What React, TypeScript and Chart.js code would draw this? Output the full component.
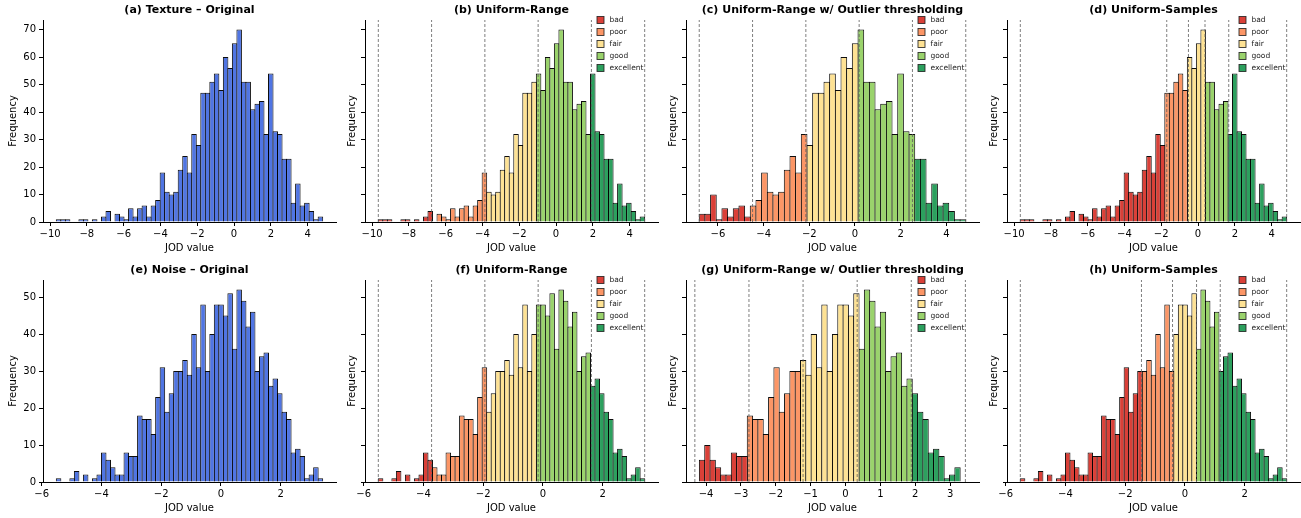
import React, { useEffect, useRef } from 'react';
import { Chart, registerables } from 'chart.js';

Chart.register(...registerables);

const FONT = '"DejaVu Sans", Arial, sans-serif';
Chart.defaults.font.family = FONT;
Chart.defaults.color = '#000';

// ---------- data ----------
const CATEGORY_LABELS = ['bad', 'poor', 'fair', 'good', 'excellent'];
const CATEGORY_COLORS = [
  'rgba(215,48,39,0.92)',
  'rgba(252,141,89,0.92)',
  'rgba(254,224,139,0.92)',
  'rgba(145,207,96,0.92)',
  'rgba(26,152,80,0.92)',
];
const ORIGINAL_COLOR = 'rgba(65,105,225,0.92)';

// Texture JOD histogram (59 bins)
const TEXTURE_COUNTS = [
  1, 1, 1, 0, 0, 1, 1, 0, 1, 0,
  2, 4, 0, 3, 2, 1, 5, 2, 5, 6,
  2, 6, 8, 18, 11, 10, 11, 19, 24, 18,
  32, 28, 47, 47, 51, 54, 48, 60, 56, 65,
  70, 51, 51, 41, 43, 44, 32, 54, 33, 32,
  23, 23, 7, 14, 6, 7, 4, 1, 2,
];
const TEXTURE_RANGE = [-9.66, 4.82];
// Texture after outlier thresholding (47 bins)
const TEXTURE_CLIPPED_COUNTS = [
  3, 3, 10, 1, 5, 2, 5, 6, 2, 6,
  8, 18, 11, 10, 11, 19, 24, 18, 32, 28,
  47, 47, 51, 54, 48, 60, 56, 65, 70, 51,
  51, 41, 43, 44, 32, 54, 33, 32, 23, 23,
  7, 14, 6, 7, 4, 1, 1,
];
const TEXTURE_CLIPPED_RANGE = [-6.82, 4.85];
const TEXTURE_UNIFORM_RANGE_EDGES = [-9.66, -6.764, -3.868, -0.972, 1.924, 4.82];
const TEXTURE_CLIPPED_EDGES = [-6.82, -4.486, -2.152, 0.182, 2.516, 4.85];
const TEXTURE_SAMPLE_EDGES = [-9.66, -1.70, -0.52, 0.38, 1.67, 4.82];

// Noise JOD histogram (59 bins)
const NOISE_COUNTS = [
  1, 0, 0, 1, 3, 0, 2, 0, 1, 2,
  8, 6, 4, 2, 2, 8, 7, 7, 18, 17,
  17, 13, 23, 31, 19, 24, 30, 30, 33, 29,
  40, 31, 48, 30, 40, 48, 48, 45, 51, 36,
  52, 49, 42, 46, 30, 34, 35, 26, 28, 24,
  19, 17, 8, 9, 7, 1, 2, 4, 1,
];
const NOISE_RANGE = [-5.508, 3.408];
// Noise after outlier thresholding (49 bins)
const NOISE_CLIPPED_COUNTS = [
  6, 10, 6, 4, 2, 2, 8, 7, 7, 18,
  17, 17, 13, 23, 31, 19, 24, 30, 30, 33,
  29, 40, 31, 48, 30, 40, 48, 48, 45, 51,
  36, 52, 49, 42, 46, 30, 34, 35, 26, 28,
  24, 19, 17, 8, 9, 7, 1, 2, 4,
];
const NOISE_CLIPPED_RANGE = [-4.19, 3.29];
const NOISE_UNIFORM_RANGE_EDGES = [-5.508, -3.725, -1.942, -0.158, 1.625, 3.408];
const NOISE_CLIPPED_EDGES = [-4.32, -2.768, -1.216, 0.336, 1.888, 3.44];
const NOISE_SAMPLE_EDGES = [-5.508, -1.453, -0.413, 0.391, 1.184, 3.408];

const ROW1_Y_TICKS = [0, 10, 20, 30, 40, 50, 60, 70];
const ROW2_Y_TICKS = [0, 10, 20, 30, 40, 50];
const ROW_Y_MAX = [73.5, 54.6];

const TEXTURE_X_TICKS = [-10, -8, -6, -4, -2, 0, 2, 4];
const TEXTURE_CLIPPED_X_TICKS = [-6, -4, -2, 0, 2, 4];
const NOISE_X_TICKS = [-6, -4, -2, 0, 2];
const NOISE_CLIPPED_X_TICKS = [-4, -3, -2, -1, 0, 1, 2, 3];

// ---------- layout ----------
const COL_LEFT = [43, 365, 686, 1007];
const ROW_TOP = [0, 260];
const AREA_W = 293;
const Y_AXIS_W = 43;
const X_AXIS_H = 36;
const RIGHT_PAD = 8;
const CANVAS_W = Y_AXIS_W + AREA_W + RIGHT_PAD;
const CANVAS_H = 258;
const EDGE_W = 1;

type PanelDef = {
  title: string;
  counts: number[];
  range: number[];
  edges: number[] | null;
  xMin: number;
  xMax: number;
  xTicks: number[];
  row: number;
  col: number;
};

const PANELS: PanelDef[] = [
  { title: '(a) Texture – Original', counts: TEXTURE_COUNTS, range: TEXTURE_RANGE, edges: null, xMin: -10.384, xMax: 5.544, xTicks: TEXTURE_X_TICKS, row: 0, col: 0 },
  { title: '(b) Uniform-Range', counts: TEXTURE_COUNTS, range: TEXTURE_RANGE, edges: TEXTURE_UNIFORM_RANGE_EDGES, xMin: -10.384, xMax: 5.544, xTicks: TEXTURE_X_TICKS, row: 0, col: 1 },
  { title: '(c) Uniform-Range w/ Outlier thresholding', counts: TEXTURE_CLIPPED_COUNTS, range: TEXTURE_CLIPPED_RANGE, edges: TEXTURE_CLIPPED_EDGES, xMin: -7.40, xMax: 5.43, xTicks: TEXTURE_CLIPPED_X_TICKS, row: 0, col: 2 },
  { title: '(d) Uniform-Samples', counts: TEXTURE_COUNTS, range: TEXTURE_RANGE, edges: TEXTURE_SAMPLE_EDGES, xMin: -10.384, xMax: 5.544, xTicks: TEXTURE_X_TICKS, row: 0, col: 3 },
  { title: '(e) Noise – Original', counts: NOISE_COUNTS, range: NOISE_RANGE, edges: null, xMin: -5.954, xMax: 3.854, xTicks: NOISE_X_TICKS, row: 1, col: 0 },
  { title: '(f) Uniform-Range', counts: NOISE_COUNTS, range: NOISE_RANGE, edges: NOISE_UNIFORM_RANGE_EDGES, xMin: -5.954, xMax: 3.854, xTicks: NOISE_X_TICKS, row: 1, col: 1 },
  { title: '(g) Uniform-Range w/ Outlier thresholding', counts: NOISE_CLIPPED_COUNTS, range: NOISE_CLIPPED_RANGE, edges: NOISE_CLIPPED_EDGES, xMin: -4.574, xMax: 3.83, xTicks: NOISE_CLIPPED_X_TICKS, row: 1, col: 2 },
  { title: '(h) Uniform-Samples', counts: NOISE_COUNTS, range: NOISE_RANGE, edges: NOISE_SAMPLE_EDGES, xMin: -5.954, xMax: 3.854, xTicks: NOISE_X_TICKS, row: 1, col: 3 },
];

const fmtTick = (v: number) => (v < 0 ? '\u2212' + Math.abs(v) : String(v));

const categoryLegendPlugin = {
  id: 'categoryLegend',
  afterDraw(chart: any) {
    const opts = chart.options.plugins.categoryLegend;
    if (!opts || !opts.show) return;
    const { ctx, chartArea } = chart;
    const x0 = chartArea.right - 61;
    ctx.save();
    ctx.font = `7.5px ${FONT}`;
    ctx.textBaseline = 'middle';
    ctx.textAlign = 'left';
    CATEGORY_LABELS.forEach((label, k) => {
      const cy = chartArea.top + 12 * k;
      ctx.fillStyle = CATEGORY_COLORS[k];
      ctx.fillRect(x0, cy - 3.5, 7, 7);
      ctx.strokeStyle = 'rgba(30,30,30,0.9)';
      ctx.lineWidth = 0.9;
      ctx.strokeRect(x0, cy - 3.5, 7, 7);
      ctx.fillStyle = '#222';
      ctx.fillText(label, x0 + 12.5, cy + 0.5);
    });
    ctx.restore();
  },
};

function buildDatasets(p: PanelDef, yMax: number) {
  const [lo, hi] = p.range;
  const n = p.counts.length;
  const w = (hi - lo) / n;
  const binPx = (w / (p.xMax - p.xMin)) * AREA_W;
  const barPct = (binPx + EDGE_W) / binPx;
  const centers = p.counts.map((_, i) => lo + (i + 0.5) * w);
  const barCommon = {
    type: 'bar',
    grouped: false,
    categoryPercentage: 1,
    barPercentage: barPct,
    borderWidth: EDGE_W,
    borderColor: 'rgba(0,0,0,0.95)',
    order: 1,
  };
  const datasets: any[] = [];
  if (!p.edges) {
    datasets.push({
      ...barCommon,
      label: 'original',
      backgroundColor: ORIGINAL_COLOR,
      data: centers.map((c, i) => ({ x: c, y: p.counts[i] })),
    });
  } else {
    const edges = p.edges;
    const catOf = (c: number) => {
      for (let k = 4; k >= 1; k--) if (c >= edges[k]) return k;
      return 0;
    };
    CATEGORY_LABELS.forEach((label, k) => {
      datasets.push({
        ...barCommon,
        label,
        backgroundColor: CATEGORY_COLORS[k],
        data: centers
          .map((c, i) => ({ x: c, y: p.counts[i], k: catOf(c) }))
          .filter((d) => d.k === k)
          .map((d) => ({ x: d.x, y: d.y })),
      });
    });
    edges.forEach((e) => {
      datasets.push({
        type: 'line',
        label: 'edge',
        data: [
          { x: e, y: 0 },
          { x: e, y: yMax },
        ],
        borderColor: 'rgba(95,95,95,0.8)',
        borderWidth: 1,
        borderDash: [3, 2],
        pointRadius: 0,
        fill: false,
        order: 0,
      });
    });
  }
  return datasets;
}

function Panel({ p }: { p: PanelDef }) {
  const ref = useRef<HTMLCanvasElement | null>(null);
  useEffect(() => {
    if (!ref.current) return;
    const yMax = ROW_Y_MAX[p.row];
    const yTicks = p.row === 0 ? ROW1_Y_TICKS : ROW2_Y_TICKS;
    const showY = p.col === 0;
    const chart = new Chart(ref.current, {
      type: 'bar',
      data: { datasets: buildDatasets(p, yMax) as any },
      plugins: [categoryLegendPlugin as any],
      options: {
        animation: false,
        responsive: false,
        devicePixelRatio: 1,
        layout: { padding: { left: 0, right: RIGHT_PAD, top: 0, bottom: 0 } },
        plugins: {
          legend: { display: false },
          tooltip: { enabled: false },
          title: {
            display: true,
            text: p.title,
            fullSize: false,
            color: '#000',
            font: { family: FONT, size: 11, weight: 'bold', lineHeight: '13px' },
            padding: { top: 4, bottom: 3 },
          },
          categoryLegend: { show: !!p.edges },
        } as any,
        scales: {
          x: {
            type: 'linear',
            min: p.xMin,
            max: p.xMax,
            offset: false,
            grid: {
              display: true,
              drawOnChartArea: false,
              drawTicks: true,
              tickLength: 4,
              color: '#000',
              lineWidth: 1,
              offset: false,
            },
            border: { display: true, color: '#000', width: 1, z: 1 },
            ticks: {
              autoSkip: false,
              maxRotation: 0,
              padding: 2,
              color: '#000',
              font: { family: FONT, size: 10 },
              callback: (v: any) => fmtTick(Number(v)),
            },
            title: {
              display: true,
              text: 'JOD value',
              color: '#000',
              font: { family: FONT, size: 10 },
              padding: { top: 0, bottom: 4 },
            },
            afterBuildTicks: (axis: any) => {
              axis.ticks = p.xTicks.map((v) => ({ value: v }));
            },
            afterFit: (s: any) => {
              s.height = X_AXIS_H;
            },
          } as any,
          y: {
            type: 'linear',
            min: 0,
            max: yMax,
            grid: {
              display: true,
              drawOnChartArea: false,
              drawTicks: true,
              tickLength: 4,
              color: '#000',
              lineWidth: 1,
            },
            border: { display: true, color: '#000', width: 1 },
            ticks: {
              padding: 3,
              color: showY ? '#000' : 'rgba(0,0,0,0)',
              font: { family: FONT, size: 10 },
              callback: (v: any) => fmtTick(Number(v)),
            },
            title: {
              display: true,
              text: 'Frequency',
              color: '#000',
              font: { family: FONT, size: 10 },
              padding: { top: showY ? 7 : 24, bottom: 0 },
            },
            afterBuildTicks: (axis: any) => {
              axis.ticks = yTicks.map((v) => ({ value: v }));
            },
            afterFit: (s: any) => {
              s.width = Y_AXIS_W;
            },
          } as any,
        },
      },
    });
    return () => chart.destroy();
  }, [p]);
  return (
    <div
      style={{
        position: 'absolute',
        left: COL_LEFT[p.col] - Y_AXIS_W,
        top: ROW_TOP[p.row],
        width: CANVAS_W,
        height: CANVAS_H,
      }}
    >
      <canvas ref={ref} width={CANVAS_W} height={CANVAS_H} style={{ width: CANVAS_W, height: CANVAS_H, display: 'block' }} />
    </div>
  );
}

export default function App() {
  return (
    <div
      style={{
        position: 'fixed',
        left: 0,
        top: 0,
        width: 1301,
        height: 518,
        overflow: 'hidden',
        background: '#fff',
      }}
    >
      {PANELS.map((p) => (
        <Panel key={p.title + p.row + p.col} p={p} />
      ))}
    </div>
  );
}
